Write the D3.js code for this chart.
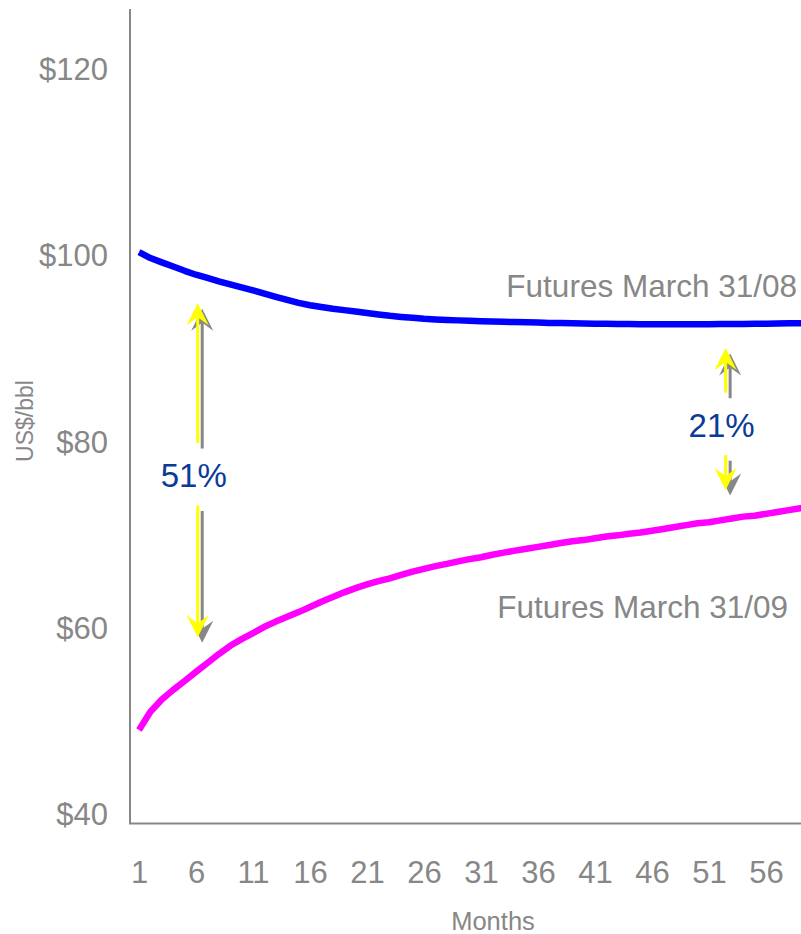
<!DOCTYPE html>
<html>
<head>
<meta charset="utf-8">
<script src="https://cdn.jsdelivr.net/npm/d3@7"></script>
<style>
  body { margin: 0; background: #fff; }
  text { font-family: "Liberation Sans", Arial, sans-serif; }
</style>
</head>
<body>
<div id="chart"></div>
<script>
// months on the x axis
const months = d3.range(1, 61);
const monthTicks = [1, 6, 11, 16, 21, 26, 31, 36, 41, 46, 51, 56];
const priceTicks = [40, 60, 80, 100, 120];

// Futures March 31/08 (US$/bbl)
const futures08 = [100.4, 99.76, 99.3, 98.85, 98.39, 97.97, 97.62, 97.26, 96.93, 96.62,
  96.3, 95.94, 95.59, 95.26, 94.95, 94.7, 94.5, 94.32, 94.17, 94.02,
  93.87, 93.71, 93.56, 93.44, 93.34, 93.24, 93.17, 93.12, 93.07, 93.02,
  92.98, 92.95, 92.92, 92.89, 92.86, 92.83, 92.8, 92.78, 92.76, 92.74,
  92.72, 92.7, 92.68, 92.67, 92.66, 92.65, 92.65, 92.65, 92.65, 92.65,
  92.66, 92.67, 92.68, 92.69, 92.7, 92.72, 92.74, 92.75, 92.76, 92.77];

// Futures March 31/09 (US$/bbl)
const futures09 = [49.1, 51.05, 52.36, 53.4, 54.36, 55.33, 56.28, 57.25, 58.13, 58.85,
  59.5, 60.17, 60.73, 61.24, 61.75, 62.3, 62.86, 63.36, 63.87, 64.32,
  64.72, 65.07, 65.38, 65.74, 66.09, 66.39, 66.69, 66.93, 67.2, 67.44,
  67.64, 67.91, 68.14, 68.35, 68.55, 68.75, 68.96, 69.16, 69.36, 69.48,
  69.67, 69.87, 69.99, 70.17, 70.29, 70.48, 70.68, 70.88, 71.09, 71.29,
  71.4, 71.6, 71.8, 72.0, 72.1, 72.3, 72.5, 72.7, 72.9, 73.1];

// spread annotations
const spreadLabels = ["51%", "21%"];
const spreadMonth = [6.15, 52.46];
const spreadTop = [94.9, 90.1];
const spreadBottom = [59.05, 74.85];
const gapTop = [79.9, 85.3];
const gapBottom = [73.2, 78.6];
const labelValue = [76.5, 81.8];

const width = 801, height = 934;

const svg = d3.select("#chart")
  .append("svg")
  .attr("width", width)
  .attr("height", height);

const x = d3.scaleLinear().domain([1, 60]).range([139, 811.6]);
const y = d3.scaleLinear().domain([39, 126.5]).range([824, 9]);

const grey = "#878787";

// axes lines
svg.append("line")
  .attr("x1", 130).attr("x2", 130)
  .attr("y1", 9).attr("y2", 824)
  .attr("stroke", grey).attr("stroke-width", 2);
svg.append("line")
  .attr("x1", 129).attr("x2", 801)
  .attr("y1", 823.5).attr("y2", 823.5)
  .attr("stroke", grey).attr("stroke-width", 2);

// y axis labels
const yAxis = svg.append("g")
  .attr("transform", "translate(130,0)")
  .call(d3.axisLeft(y).tickValues(priceTicks).tickSize(0).tickPadding(22).tickFormat(d => "$" + d));
yAxis.select(".domain").remove();
yAxis.selectAll("text")
  .style("font-size", "31px")
  .style("fill", grey)
  .style("font-family", "'Liberation Sans', Arial, sans-serif");

// x axis labels
const xAxis = svg.append("g")
  .attr("transform", "translate(0,823)")
  .call(d3.axisBottom(x).tickValues(monthTicks).tickSize(0).tickPadding(38).tickFormat(d3.format("d")));
xAxis.select(".domain").remove();
xAxis.selectAll("text")
  .style("font-size", "31px")
  .style("fill", grey)
  .style("font-family", "'Liberation Sans', Arial, sans-serif");

// axis titles
svg.append("text")
  .attr("x", 493).attr("y", 930)
  .attr("text-anchor", "middle")
  .style("font-size", "25.5px")
  .style("fill", grey)
  .text("Months");

svg.append("text")
  .attr("transform", "translate(33,421) rotate(-90)")
  .attr("text-anchor", "middle")
  .style("font-size", "23px")
  .style("fill", grey)
  .text("US$/bbl");

// lines
const line = d3.line()
  .x((d, i) => x(months[i]))
  .y(d => y(d));

svg.append("path")
  .datum(futures08)
  .attr("d", line)
  .attr("fill", "none")
  .attr("stroke", "#0000ff")
  .attr("stroke-width", 6.5)
  .attr("stroke-linejoin", "round");

svg.append("path")
  .datum(futures09)
  .attr("d", line)
  .attr("fill", "none")
  .attr("stroke", "#ff00ff")
  .attr("stroke-width", 6.5)
  .attr("stroke-linejoin", "round");

// series labels
svg.append("text")
  .attr("x", 797).attr("y", 297)
  .attr("text-anchor", "end")
  .style("font-size", "31.5px")
  .style("fill", grey)
  .text("Futures March 31/08");

svg.append("text")
  .attr("x", 788).attr("y", 618)
  .attr("text-anchor", "end")
  .style("font-size", "31.5px")
  .style("fill", grey)
  .text("Futures March 31/09");

// arrows: gray shadow first, then yellow
function arrow(g, ax, tipY, endY, color) {
  const dir = tipY < endY ? 1 : -1; // 1 = pointing up
  const notch = tipY + dir * 14;
  g.append("line")
    .attr("x1", ax).attr("x2", ax)
    .attr("y1", notch).attr("y2", endY)
    .attr("stroke", color).attr("stroke-width", 3);
  g.append("path")
    .attr("d", `M${ax},${tipY} L${ax - 11},${tipY + dir * 22} L${ax},${notch} L${ax + 11},${tipY + dir * 22} Z`)
    .attr("fill", color);
}

spreadLabels.forEach(function(lbl, i) {
  const ax = x(spreadMonth[i]);
  const shadow = svg.append("g").attr("transform", "translate(4.5,5.5)");
  arrow(shadow, ax, y(spreadTop[i]), y(gapTop[i]), grey);
  arrow(shadow, ax, y(spreadBottom[i]), y(gapBottom[i]), grey);
  const front = svg.append("g");
  arrow(front, ax, y(spreadTop[i]), y(gapTop[i]), "#ffff00");
  arrow(front, ax, y(spreadBottom[i]), y(gapBottom[i]), "#ffff00");

  svg.append("text")
    .attr("x", ax - 4)
    .attr("y", y(labelValue[i]))
    .attr("dy", "0.36em")
    .attr("text-anchor", "middle")
    .style("font-size", "33px")
    .style("fill", "#0b3a98")
    .text(lbl);
});
</script>
</body>
</html>
